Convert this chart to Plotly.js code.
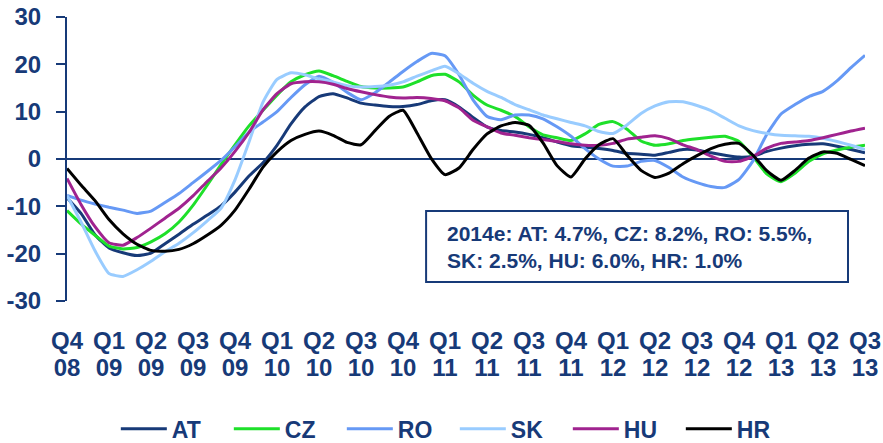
<!DOCTYPE html>
<html>
<head>
<meta charset="utf-8">
<script src="https://cdn.plot.ly/plotly-3.0.1.min.js"></script>
<style>
  html, body { margin: 0; padding: 0; background: #ffffff; }
  #chart { width: 883px; height: 443px; }
</style>
</head>
<body>
<div id="chart"></div>
<script>
// Monthly index: 0 = Q4 08 ... 57 = Q3 13
var months = [];
for (var i = 0; i <= 57; i++) months.push(i);

var tickPositions = [0, 3, 6, 9, 12, 15, 18, 21, 24, 27, 30, 33, 36, 39, 42, 45, 48, 51, 54, 57];
var quarterLabels = ["Q4","Q1","Q2","Q3","Q4","Q1","Q2","Q3","Q4","Q1","Q2","Q3","Q4","Q1","Q2","Q3","Q4","Q1","Q2","Q3"];
var yearLabels = ["08","09","09","09","09","10","10","10","10","11","11","11","11","12","12","12","12","13","13","13"];
var yTickValues = [-30, -20, -10, 0, 10, 20, 30];
var yTickLabels = ["-30", "-20", "-10", "0", "10", "20", "30"];

var AT = [-8.2,-11.5,-16.0,-18.8,-19.8,-20.4,-19.9,-17.9,-15.9,-13.8,-11.9,-9.9,-7.0,-3.6,-0.8,2.9,7.4,11.0,13.2,13.8,12.9,11.8,11.4,11.1,11.1,11.5,12.3,12.5,11.0,8.8,6.8,6.0,5.7,5.2,4.5,3.6,2.8,2.5,2.2,1.8,1.2,1.0,0.8,1.4,2.0,1.9,1.3,0.8,0.4,0.6,1.6,2.3,2.8,3.1,3.2,2.7,2.0,1.3];
var CZ = [-10.9,-13.7,-16.1,-18.4,-19.0,-18.7,-17.5,-15.8,-13.3,-9.8,-5.6,-1.2,3.0,7.0,10.3,13.5,16.3,17.8,18.6,17.6,16.4,15.3,15.0,15.0,15.2,16.3,17.6,17.9,16.3,13.5,11.4,10.3,9.0,6.8,5.1,4.5,3.9,5.3,7.3,7.9,6.3,3.8,2.9,3.2,3.9,4.3,4.6,4.8,3.7,0.5,-3.2,-4.8,-3.0,-0.5,1.1,1.9,2.5,2.9];
var RO = [-7.7,-8.7,-9.5,-10.2,-10.8,-11.5,-11.0,-9.2,-7.3,-5.0,-2.7,-0.3,2.6,5.7,7.8,10.0,13.0,15.7,17.5,16.2,14.1,12.5,14.0,16.2,18.5,20.6,22.3,21.8,17.8,12.5,9.0,8.3,9.3,9.3,8.5,6.8,4.8,2.2,0.0,-1.5,-1.5,-0.5,-0.3,-1.8,-3.8,-5.0,-5.8,-6.0,-4.3,-0.4,5.3,9.5,11.5,13.2,14.3,16.5,19.3,21.9];
var SK = [-7.7,-13.3,-19.4,-24.2,-24.8,-23.4,-21.6,-19.6,-17.8,-15.6,-13.1,-10.4,-4.4,3.6,12.0,16.8,18.2,17.8,16.9,16.3,15.5,15.2,15.3,15.6,16.3,17.5,18.6,19.6,18.0,16.0,14.3,13.0,11.5,10.4,9.3,8.5,7.7,7.0,5.8,5.4,7.2,9.6,11.2,12.1,12.1,11.3,10.2,8.6,7.0,6.0,5.4,5.0,4.9,4.8,4.4,3.7,2.9,2.0];
var HU = [-4.1,-9.6,-14.3,-17.7,-18.2,-16.6,-14.6,-12.5,-10.4,-7.8,-4.8,-1.9,1.6,5.6,10.4,13.8,15.9,16.3,16.3,15.8,14.9,14.2,13.6,13.1,12.9,13.0,12.8,12.3,10.8,8.2,6.8,5.5,5.0,4.5,4.1,3.7,3.2,2.9,2.9,3.3,4.2,4.6,4.9,4.3,3.0,2.0,0.6,-0.5,-0.5,0.5,2.3,3.3,3.6,3.9,4.5,5.2,5.9,6.5];
var HR = [-2.0,-5.5,-8.8,-12.8,-15.8,-18.0,-19.3,-19.5,-19.1,-17.9,-16.1,-14.0,-10.8,-6.4,-1.7,1.5,3.9,5.2,5.9,5.0,3.5,3.0,6.0,9.0,10.3,5.5,0.2,-3.3,-1.9,2.0,5.3,7.0,7.7,7.1,3.4,-1.4,-3.8,0.0,3.0,4.3,0.8,-2.4,-3.9,-3.0,-1.0,0.7,2.2,3.1,3.3,0.8,-2.5,-4.5,-2.4,0.2,1.5,1.2,-0.1,-1.4];

var seriesNames = ["AT", "CZ", "RO", "SK", "HU", "HR"];
var seriesValues = [AT, CZ, RO, SK, HU, HR];
var seriesColors = ["#173A78", "#1EE02A", "#6699F5", "#99CCFF", "#A0238F", "#000000"];

var noteText = "2014e: AT: 4.7%, CZ: 8.2%, RO: 5.5%,<br>SK: 2.5%, HU: 6.0%, HR: 1.0%";

var navy = "#173A78";
var fontFam = "Liberation Sans, Arial, Helvetica, sans-serif";

var traces = seriesNames.map(function (name, i) {
  return {
    type: "scatter",
    mode: "lines",
    name: name,
    x: months,
    y: seriesValues[i],
    line: { color: seriesColors[i], width: 3, shape: "spline", smoothing: 0.5 },
    hoverinfo: "skip"
  };
});

// empty carrier trace so the second (year) tick axis is drawn
traces.push({
  type: "scatter",
  mode: "lines",
  x: tickPositions,
  y: tickPositions.map(function () { return null; }),
  xaxis: "x2",
  yaxis: "y",
  showlegend: false,
  hoverinfo: "skip"
});

var tickFont = { family: fontFam, size: 24, color: navy, weight: "bold" };

var layout = {
  width: 883,
  height: 443,
  margin: { l: 67, r: 18, t: 17, b: 142, autoexpand: false },
  paper_bgcolor: "#ffffff",
  plot_bgcolor: "#ffffff",
  showlegend: true,
  font: { family: fontFam, color: navy, size: 24, weight: "bold" },
  xaxis: {
    range: [0, 57],
    tickmode: "array",
    tickvals: tickPositions,
    ticktext: quarterLabels,
    ticks: "",
    showline: false,
    showgrid: false,
    zeroline: false,
    automargin: false,
    ticklabelstandoff: 23,
    tickfont: tickFont
  },
  xaxis2: {
    overlaying: "x",
    anchor: "y",
    side: "bottom",
    range: [0, 57],
    tickmode: "array",
    tickvals: tickPositions,
    ticktext: yearLabels,
    ticks: "",
    showline: false,
    showgrid: false,
    zeroline: false,
    automargin: false,
    ticklabelstandoff: 50,
    tickfont: tickFont
  },
  yaxis: {
    range: [-30, 30],
    tickmode: "array",
    tickvals: yTickValues,
    ticktext: yTickLabels,
    ticks: "outside",
    ticklen: 9,
    tickwidth: 2,
    tickcolor: navy,
    showline: true,
    linecolor: navy,
    linewidth: 2,
    showgrid: false,
    zeroline: true,
    zerolinecolor: navy,
    zerolinewidth: 2,
    automargin: false,
    ticklabelstandoff: 10,
    tickfont: tickFont
  },
  legend: {
    orientation: "h",
    x: 0.486,
    xanchor: "center",
    y: -0.45,
    yanchor: "middle",
    font: { family: fontFam, size: 23, color: navy, weight: "bold" },
    itemwidth: 46,
    entrywidth: 52,
    entrywidthmode: "pixels",
    bgcolor: "rgba(0,0,0,0)"
  },
  shapes: [{
    type: "rect",
    xref: "paper", yref: "paper",
    x0: 0.45, x1: 0.9787, y0: 0.067, y1: 0.317,
    line: { color: navy, width: 2 },
    fillcolor: "#ffffff",
    layer: "above"
  }],
  annotations: [{
    xref: "paper", yref: "paper",
    x: 0.4737, y: 0.19,
    xanchor: "left", yanchor: "middle",
    align: "left",
    showarrow: false,
    text: noteText,
    font: { family: fontFam, size: 21, color: navy, weight: "bold" }
  }]
};

Plotly.newPlot("chart", traces, layout, { displayModeBar: false, staticPlot: true });
</script>
</body>
</html>
